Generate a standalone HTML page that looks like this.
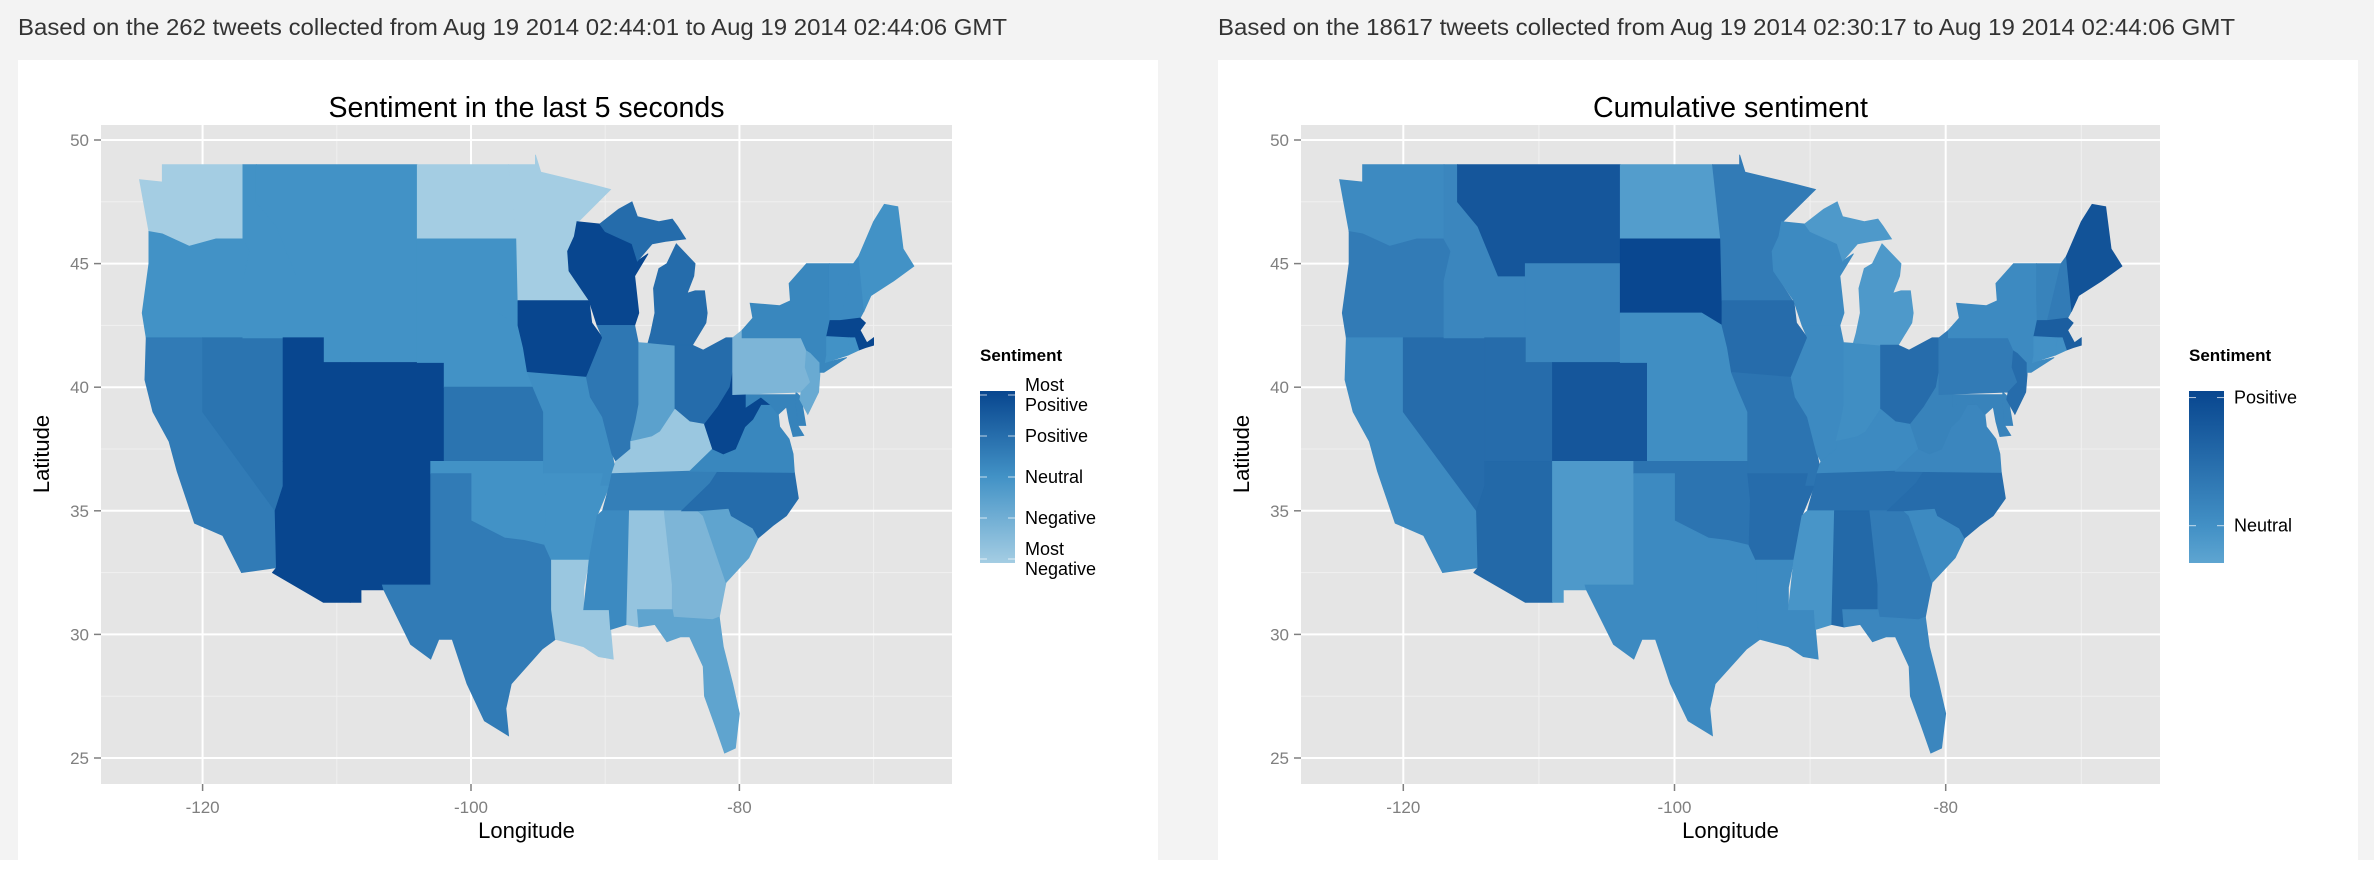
<!DOCTYPE html>
<html><head><meta charset="utf-8">
<style>
html,body{margin:0;padding:0;background:#fff;}
svg{display:block;font-family:"Liberation Sans",sans-serif;}
</style></head>
<body>
<svg id="root" width="2374" height="884" viewBox="0 0 2374 884">
<rect x="0" y="0" width="2374" height="860" fill="#f3f3f3"/>
<text x="18" y="35" font-size="23" fill="#333" textLength="989" lengthAdjust="spacingAndGlyphs">Based on the 262 tweets collected from Aug 19 2014 02:44:01 to Aug 19 2014 02:44:06 GMT</text>
<text x="1218" y="35" font-size="23" fill="#333" textLength="1017" lengthAdjust="spacingAndGlyphs">Based on the 18617 tweets collected from Aug 19 2014 02:30:17 to Aug 19 2014 02:44:06 GMT</text>
<rect x="18" y="60" width="1140" height="824" fill="#fff"/>
<rect x="1218" y="60" width="1140" height="800" fill="#fff"/>
<defs>
<linearGradient id="gL" x1="0" y1="1" x2="0" y2="0">
<stop offset="0" stop-color="#a4cde3"/><stop offset="0.5" stop-color="#4292c6"/><stop offset="1" stop-color="#08468f"/>
</linearGradient>
<linearGradient id="gR" x1="0" y1="1" x2="0" y2="0">
<stop offset="0" stop-color="#5ea5d1"/><stop offset="0.206" stop-color="#4391c6"/><stop offset="1" stop-color="#08468f"/>
</linearGradient>
</defs>
<g id="left"></g>
<g id="right"></g>
</svg>
<script>
// ---- data ----
const stateNames = ["WA","OR","CA","NV","ID","MT","WY","UT","AZ","CO","NM","ND","SD","NE","KS","OK","TX","MN","IA","MO","AR","LA","WI","IL","IN","MI-L","MI-U","OH","KY","TN","MS","AL","GA","FL","SC","NC","VA","WV","MD","DE","PA","NJ","NY","VT","NH","ME","MA","RI","CT"];
const leftValues = [-2,0,0.6,0.8,0,0,0,2,2,2,2,-2,0,0,0.8,0,0.6,-2,2,0.1,0,-1.8,2,0.7,-0.5,1,1,1,-1.8,0.5,0.2,-1.7,-1.2,-0.6,-0.6,1,0.3,2,0.4,0.4,-1.2,-0.8,0.3,0.2,0.2,0,2,0,0];
const rightValues = [0.1,0.3,0.1,0.5,0.15,0.8,0.15,0.5,0.55,0.8,-0.1,-0.15,1,0.05,0.05,0.4,0.1,0.3,0.5,0.4,0.5,0.1,0.1,0.1,0.05,-0.1,-0.1,0.5,0.1,0.45,-0.05,0.55,0.3,0.15,0.1,0.5,0.15,0.2,0.2,0.2,0.3,0.5,0.1,0.2,0.3,0.85,0.7,0.0,0.0];
const lonTicks = [-120,-100,-80];
const latTicks = [25,30,35,40,45,50];
const leftLegendLabels = [["Most","Positive"],["Positive"],["Neutral"],["Negative"],["Most","Negative"]];
const leftLegendValues = [2,1,0,-1,-2];
const rightLegendLabels = [["Positive"],["Neutral"]];
const rightLegendValues = [1,0];

const shapes = {
WA:[[-124.7,48.4],[-123,48.3],[-123,49],[-117,49],[-117,46],[-119,46],[-121,45.7],[-123,46.2],[-124,46.3]],
OR:[[-124,46.3],[-123,46.2],[-121,45.7],[-119,46],[-117,46],[-116.5,45.5],[-117,44.3],[-117,42],[-124.2,42],[-124.5,43],[-124,45]],
CA:[[-124.2,42],[-120,42],[-120,39],[-114.6,35],[-114.5,32.7],[-117.1,32.5],[-118.5,34],[-120.6,34.5],[-121.9,36.6],[-122.5,37.8],[-123.7,39],[-124.3,40.3]],
NV:[[-120,42],[-114,42],[-114,36],[-114.6,35],[-120,39]],
ID:[[-117,49],[-116,49],[-116,47.5],[-114.5,46.5],[-113,44.5],[-111,44.5],[-111,42],[-117,42],[-117,44.3],[-116.5,45.5],[-117,46]],
MT:[[-116,49],[-104,49],[-104,45],[-111,45],[-111,44.5],[-113,44.5],[-114.5,46.5],[-116,47.5]],
WY:[[-111,45],[-104,45],[-104,41],[-111,41]],
UT:[[-114,42],[-111,42],[-111,41],[-109,41],[-109,37],[-114,37]],
AZ:[[-114,37],[-109,37],[-109,31.3],[-111,31.3],[-114.8,32.5],[-114.5,32.7],[-114.6,35],[-114,36]],
CO:[[-109,41],[-102,41],[-102,37],[-109,37]],
NM:[[-109,37],[-103,37],[-103,32],[-106.6,32],[-106.5,31.8],[-108.2,31.8],[-108.2,31.3],[-109,31.3]],
ND:[[-104,49],[-97.2,49],[-96.6,46],[-104,46]],
SD:[[-104,46],[-96.6,46],[-96.5,42.5],[-98,43],[-104,43]],
NE:[[-104,43],[-98,43],[-96.5,42.5],[-95.3,40],[-102,40],[-102,41],[-104,41]],
KS:[[-102,40],[-95.3,40],[-94.6,39],[-94.6,37],[-102,37]],
OK:[[-103,37],[-94.6,37],[-94.4,35.4],[-94.5,33.6],[-96,33.8],[-97.5,33.9],[-100,34.6],[-100,36.5],[-103,36.5]],
TX:[[-106.6,32],[-103,32],[-103,36.5],[-100,36.5],[-100,34.6],[-97.5,33.9],[-96,33.8],[-94.5,33.6],[-94,33],[-94,31],[-93.7,29.8],[-94.7,29.4],[-97,28],[-97.4,27],[-97.2,25.9],[-99,26.5],[-100.3,28],[-101.4,29.8],[-102.4,29.8],[-103,29],[-104.5,29.6],[-106.5,31.8]],
MN:[[-97.2,49],[-95.2,49],[-95.2,49.4],[-94.8,48.7],[-91,48.2],[-89.6,48],[-92,46.7],[-92.3,46.1],[-92.8,45.5],[-92.7,44.7],[-91.3,43.5],[-96.5,43.5],[-96.6,46]],
IA:[[-96.5,43.5],[-91.2,43.5],[-91,42.6],[-90.2,42],[-91.1,40.8],[-91.4,40.4],[-95.8,40.6],[-96.1,41.6],[-96.5,42.5]],
MO:[[-95.8,40.6],[-91.4,40.4],[-91.1,39.6],[-90.2,38.8],[-89.5,37.3],[-89.2,36.6],[-89.7,36],[-90.4,36],[-90.2,36.5],[-94.6,36.5],[-94.6,39],[-95.3,39.9]],
AR:[[-94.6,36.5],[-90.2,36.5],[-90.4,36],[-89.7,36],[-90.6,34.8],[-91.2,33],[-94,33],[-94.5,33.6],[-94.4,35.4]],
LA:[[-94,33],[-91.2,33],[-91.6,31.9],[-91.6,31],[-89.7,31],[-89.6,30.2],[-89.4,29],[-90.5,29.1],[-91.6,29.5],[-93.7,29.8],[-94,31]],
WI:[[-92.1,46.7],[-90.4,46.6],[-90,46.3],[-88,45.8],[-87.6,45.1],[-86.8,45.4],[-87.8,44.5],[-87.5,43],[-87.8,42.5],[-90.6,42.5],[-91.2,43.5],[-92.7,44.7],[-92.8,45.5],[-92.3,46.1]],
IL:[[-90.6,42.5],[-87.8,42.5],[-87.5,41.7],[-87.5,39.3],[-87.7,38.7],[-88.1,37.5],[-89.2,37],[-89.5,37.3],[-90.2,38.8],[-91.1,39.6],[-91.4,40.4],[-91.1,40.8],[-90.2,42]],
IN:[[-87.5,41.8],[-84.8,41.7],[-84.8,39.1],[-85.9,38.2],[-86.5,38],[-88.1,37.8],[-87.7,38.7],[-87.5,39.3]],
"MI-L":[[-86.8,41.8],[-84.8,41.7],[-83.5,41.7],[-82.5,42.6],[-82.4,43],[-82.6,43.9],[-83.3,43.9],[-83.9,43.8],[-83.4,44.5],[-83.3,45],[-84.7,45.8],[-85.4,45],[-86,44.8],[-86.4,44],[-86.3,43],[-86.6,42.2]],
"MI-U":[[-90.4,46.6],[-89,47.2],[-88,47.5],[-87.6,46.9],[-86,46.7],[-85,46.8],[-84.6,46.5],[-84,46],[-85.5,45.9],[-86.5,45.8],[-87.6,45.1],[-88,45.8],[-90,46.3]],
OH:[[-84.8,41.7],[-83.5,41.7],[-82.7,41.5],[-81,42],[-80.5,42],[-80.5,40.6],[-80.7,40],[-81.6,39.2],[-82.6,38.5],[-83.7,38.6],[-84.8,39.1]],
KY:[[-89.2,37],[-88.1,37.5],[-88.1,37.8],[-86.5,38],[-85.9,38.2],[-84.8,39.1],[-83.7,38.6],[-82.6,38.5],[-82,37.5],[-83.7,36.6],[-89.5,36.5]],
TN:[[-89.5,36.5],[-83.7,36.6],[-81.6,36.6],[-82.2,36.1],[-84.3,35],[-90.2,35],[-89.7,36]],
MS:[[-90.2,35],[-88.2,35],[-88.4,30.4],[-89.6,30.2],[-89.7,31],[-91.6,31],[-91.2,33],[-90.6,34.8]],
AL:[[-88.2,35],[-85.6,35],[-85,32],[-85,31],[-87.6,31],[-87.5,30.3],[-88.4,30.4]],
GA:[[-85.6,35],[-83.1,35],[-82.7,34.8],[-81,32.1],[-81.5,30.7],[-82,30.6],[-84.9,30.7],[-85,31],[-85,32]],
FL:[[-87.6,31],[-85,31],[-84.9,30.7],[-82,30.6],[-81.5,30.7],[-81.2,29.5],[-80.5,28],[-80,26.8],[-80.3,25.4],[-81.1,25.2],[-81.8,26.3],[-82.6,27.5],[-82.7,28.7],[-83.7,29.9],[-84.4,29.9],[-85.4,29.7],[-86.3,30.4],[-87.5,30.3]],
SC:[[-83.1,35],[-80.8,35.1],[-80.6,34.8],[-79,34.3],[-78.6,33.9],[-79.3,33.1],[-81,32.1],[-82.7,34.8]],
NC:[[-84.3,35],[-83.1,35],[-80.8,35.1],[-80.6,34.8],[-79,34.3],[-78.6,33.9],[-77.5,34.4],[-76.5,34.8],[-75.6,35.5],[-75.9,36.55],[-81.6,36.6],[-82.2,36.1]],
VA:[[-83.7,36.6],[-75.9,36.55],[-76,37.3],[-76.3,37.9],[-77,38.4],[-77.1,38.9],[-77.7,39.3],[-78.4,39.3],[-79,38.7],[-79.6,38.4],[-80.3,37.5],[-81.2,37.3],[-82,37.5]],
WV:[[-82.6,38.5],[-81.6,39.2],[-80.7,40],[-80.5,40.6],[-80.5,39.7],[-79.5,39.7],[-79.5,39.2],[-78.4,39.6],[-77.7,39.3],[-78.4,39.3],[-79,38.7],[-79.6,38.4],[-80.3,37.5],[-81.2,37.3],[-82,37.5]],
MD:[[-79.5,39.7],[-75.8,39.7],[-75.7,38.5],[-75.2,38.05],[-76,38],[-76.3,38.6],[-76.5,39.2],[-77.1,38.9],[-77.7,39.3],[-78.4,39.6],[-79.5,39.2]],
DE:[[-75.8,39.8],[-75.4,39.6],[-75.05,38.45],[-75.7,38.45]],
PA:[[-80.5,42],[-79.8,42.3],[-79.8,42],[-75.4,42],[-75,41.5],[-75.1,40.8],[-74.7,40.2],[-75.4,39.8],[-80.5,39.7]],
NJ:[[-75.4,39.8],[-74.7,40.2],[-75.1,40.8],[-75,41.5],[-74.7,41.4],[-74,41],[-74,40.5],[-74.1,39.8],[-74.9,38.9],[-75.5,39.5]],
NY:[[-79.8,42.3],[-79,42.8],[-79.2,43.4],[-77,43.3],[-76.2,43.5],[-76.3,44.2],[-75,45],[-73.3,45],[-73.3,43.6],[-73.25,42.7],[-73.5,41.3],[-73.6,41],[-72,41.2],[-73.7,40.6],[-74,40.6],[-74,41],[-74.7,41.4],[-75,41.5],[-75.4,42],[-79.8,42]],
VT:[[-73.3,45],[-71.5,45],[-72.5,42.7],[-73.25,42.7],[-73.3,43.6]],
NH:[[-71.5,45],[-71.1,45.3],[-70.8,43.6],[-70.7,43.1],[-71,42.8],[-72.5,42.7]],
ME:[[-71.1,45.3],[-70,46.7],[-69.2,47.4],[-68.2,47.3],[-67.8,45.6],[-67,44.9],[-68.5,44.3],[-70.2,43.7],[-70.7,43.1],[-70.8,43.6]],
MA:[[-73.5,42.05],[-73.25,42.7],[-72.5,42.7],[-71,42.8],[-70.6,42.6],[-71,42.3],[-70.5,41.8],[-70,42],[-70,41.7],[-70.6,41.6],[-71.1,41.5],[-71.4,42],[-71.8,42]],
RI:[[-71.8,42],[-71.4,42],[-71.1,41.5],[-71.9,41.3]],
CT:[[-73.5,42.05],[-71.8,42],[-71.9,41.3],[-73.6,41],[-73.5,41.3]]
};

const NS = "http://www.w3.org/2000/svg";
function hex(c){return [parseInt(c.slice(1,3),16),parseInt(c.slice(3,5),16),parseInt(c.slice(5,7),16)];}
function interp(stops,t){
  t=Math.max(0,Math.min(1,t));
  for(let i=1;i<stops.length;i++){
    if(t<=stops[i][0]){
      const a=stops[i-1],b=stops[i],u=(t-a[0])/(b[0]-a[0]);
      const A=hex(a[1]),B=hex(b[1]);
      return "rgb("+A.map((v,k)=>Math.round(v+(B[k]-v)*u)).join(",")+")";
    }
  }
  return stops[stops.length-1][1];
}
function mk(parent,tag,attrs,text){
  const e=document.createElementNS(NS,tag);
  for(const k in attrs) e.setAttribute(k,attrs[k]);
  if(text!==undefined) e.textContent=text;
  parent.appendChild(e); return e;
}

function drawChart(g,cfg){
  const X=lon=>cfg.x0+(lon+100)*cfg.kx;
  const Y=lat=>140+(50-lat)*24.72;
  const p=cfg.panel;
  let e=mk(g,"rect",{x:p[0],y:p[1],width:p[2]-p[0],height:p[3]-p[1],fill:"#e5e5e5"});
  
  
  [-110,-90,-70].forEach(v=>{const l=mk(g,"line",{x1:X(v),x2:X(v),y1:p[1],y2:p[3],stroke:"#f0f0f0","stroke-width":1});
    
    });
  [27.5,32.5,37.5,42.5,47.5].forEach(v=>{const l=mk(g,"line",{x1:p[0],x2:p[2],y1:Y(v),y2:Y(v),stroke:"#f0f0f0","stroke-width":1});
    
    });
  lonTicks.forEach(v=>{
    const l=mk(g,"line",{x1:X(v),x2:X(v),y1:p[1],y2:p[3],stroke:"#fff","stroke-width":2});
    
    
    const t=mk(g,"line",{x1:X(v),x2:X(v),y1:p[3],y2:p[3]+7,stroke:"#7f7f7f","stroke-width":1.5});
    
    
    const s=mk(g,"text",{x:X(v),y:p[3]+29,"font-size":17,fill:"#7f7f7f","text-anchor":"middle"},String(v));
    
    
  });
  latTicks.forEach(v=>{
    const l=mk(g,"line",{x1:p[0],x2:p[2],y1:Y(v),y2:Y(v),stroke:"#fff","stroke-width":2});
    
    
    const t=mk(g,"line",{x1:p[0]-7,x2:p[0],y1:Y(v),y2:Y(v),stroke:"#7f7f7f","stroke-width":1.5});
    
    
    const s=mk(g,"text",{x:p[0]-12,y:Y(v)+6,"font-size":17,fill:"#7f7f7f","text-anchor":"end"},String(v));
    
    
  });
  stateNames.forEach((n,i)=>{
    const pts=shapes[n].map(q=>X(q[0]).toFixed(1)+","+Y(q[1]).toFixed(1)).join(" ");
    const c=interp(cfg.stops,(cfg.values[i]-cfg.dmin)/(cfg.dmax-cfg.dmin));
    const s=mk(g,"polygon",{points:pts,fill:c,stroke:c,"stroke-width":0.8});
    
    
  });
  let t=mk(g,"text",{x:(p[0]+p[2])/2,y:117,"font-size":29,fill:"#000","text-anchor":"middle",textLength:cfg.titleLen,lengthAdjust:"spacingAndGlyphs"},cfg.title);
  
  
  t=mk(g,"text",{x:(p[0]+p[2])/2,y:838,"font-size":22,fill:"#000","text-anchor":"middle"},"Longitude");
  
  
  const ax=p[0]-52;
  t=mk(g,"text",{x:ax,y:454,"font-size":22,fill:"#000","text-anchor":"middle",transform:"rotate(-90 "+ax+" 454)"},"Latitude");
  
  
  const lg=mk(g,"g",{});
  
  
  t=mk(lg,"text",{x:cfg.lx,y:361,"font-size":17,"font-weight":"bold",fill:"#000"},"Sentiment");
  
  
  const r=mk(lg,"rect",{x:cfg.lx,y:391,width:35,height:172,fill:"url(#"+cfg.grad+")"});
  
  
  const LY=v=>563-4-(v-cfg.dmin)/(cfg.dmax-cfg.dmin)*(172-8);
  cfg.legVals.forEach((v,i)=>{
    const y=LY(v);
    mk(lg,"line",{x1:cfg.lx,x2:cfg.lx+7,y1:y,y2:y,stroke:"#fff","stroke-opacity":0.7,"stroke-width":1});
    mk(lg,"line",{x1:cfg.lx+28,x2:cfg.lx+35,y1:y,y2:y,stroke:"#fff","stroke-opacity":0.7,"stroke-width":1});
    const lines=cfg.legLabels[i];
    const y0=y+6-(lines.length-1)*10;
    lines.forEach((w,j)=>{
      const tt=mk(lg,"text",{x:cfg.lx+45,y:y0+j*20,"font-size":18,fill:"#000"},w);
      
      
    });
  });
}

drawChart(document.getElementById("left"),{
  x0:471,kx:13.42,panel:[101,125,952,784],title:"Sentiment in the last 5 seconds",titleLen:396,
  values:leftValues,dmin:-2,dmax:2,
  stops:[[0,"#a4cde3"],[0.5,"#4292c6"],[1,"#08468f"]],
  lx:980,grad:"gL",legVals:leftLegendValues,legLabels:leftLegendLabels
});
drawChart(document.getElementById("right"),{
  x0:1674.5,kx:13.56,panel:[1301,125,2160,784],title:"Cumulative sentiment",titleLen:275,
  values:rightValues,dmin:-0.26,dmax:1.02,
  stops:[[0,"#5ea5d1"],[0.206,"#4391c6"],[1,"#08468f"]],
  lx:2189,grad:"gR",legVals:rightLegendValues,legLabels:rightLegendLabels
});
</script>
</body></html>
